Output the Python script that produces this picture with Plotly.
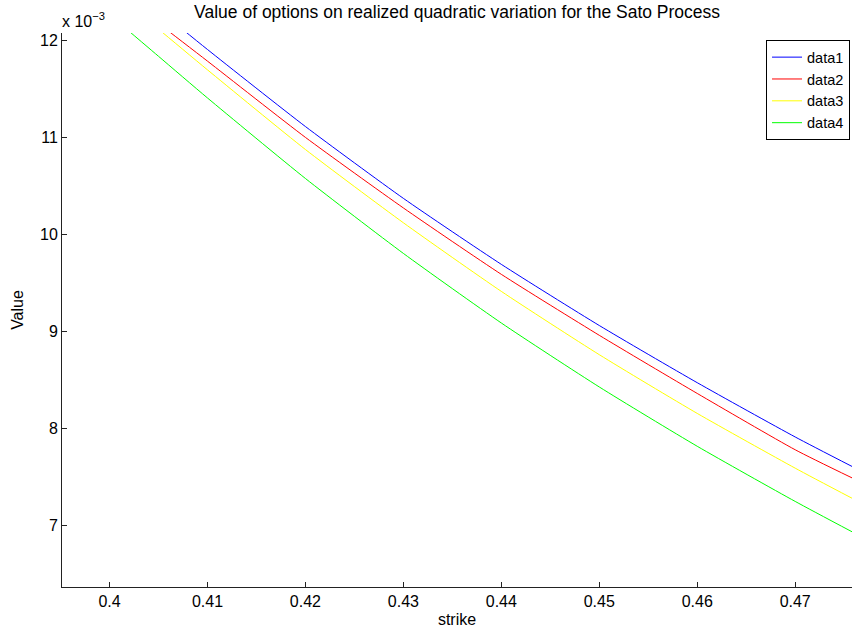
import plotly.graph_objects as go

# Strike grid and option values (in units of 1e-3)
strike = [0.400, 0.405, 0.410, 0.420, 0.430, 0.440, 0.450, 0.460, 0.470, 0.4758]
data1 = [12.74, 12.32, 11.91, 11.115, 10.374, 9.693, 9.062, 8.472, 7.912, 7.608]
data2 = [12.58, 12.18, 11.79, 11.003, 10.275, 9.590, 8.961, 8.361, 7.780, 7.490]
data3 = [12.54, 12.12, 11.70, 10.878, 10.122, 9.414, 8.761, 8.155, 7.590, 7.280]
data4 = [12.27, 11.84, 11.41, 10.579, 9.806, 9.088, 8.428, 7.816, 7.247, 6.934]

series = [("data1", data1, "#0000ff"),
          ("data2", data2, "#ff0000"),
          ("data3", data3, "#ffff00"),
          ("data4", data4, "#00ff00")]

x_ticks = [0.40, 0.41, 0.42, 0.43, 0.44, 0.45, 0.46, 0.47]
x_ticktext = ["0.4", "0.41", "0.42", "0.43", "0.44", "0.45", "0.46", "0.47"]
y_ticks = [7, 8, 9, 10, 11, 12]

FONT = "Liberation Sans, Arial, Helvetica, sans-serif"

fig = go.Figure()
for name, vals, color in series:
    fig.add_trace(go.Scatter(
        x=strike, y=[v * 1e-3 for v in vals], name=name, mode="lines",
        line=dict(color=color, width=1, shape="spline", smoothing=0.6),
    ))

fig.update_layout(
    width=852, height=632,
    margin=dict(l=62, r=0, t=33, b=45),
    paper_bgcolor="white", plot_bgcolor="white",
    font=dict(family=FONT, size=15, color="black"),
    title=dict(text="Value of options on realized quadratic variation for the Sato Process",
               x=0.5365, xanchor="center", y=0.982, yanchor="middle",
               font=dict(size=17.5, family=FONT)),
    xaxis=dict(range=[0.39515, 0.4758], tickvals=x_ticks, ticktext=x_ticktext,
               ticks="inside", ticklen=5, tickcolor="#222", showgrid=False,
               zeroline=False, showline=True, linecolor="#222", linewidth=1,
               tickfont=dict(size=16),
               title=dict(text="strike", font=dict(size=16), standoff=4)),
    yaxis=dict(range=[6.364e-3, 12.08e-3], tickvals=[v * 1e-3 for v in y_ticks],
               ticktext=[str(v) for v in y_ticks],
               ticks="inside", ticklen=5, tickcolor="#222", showgrid=False,
               zeroline=False, showline=True, linecolor="#222", linewidth=1,
               tickfont=dict(size=16),
               title=dict(text="Value", font=dict(size=16), standoff=12)),
    legend=dict(x=0.9975, xanchor="right", y=0.987, yanchor="top",
                bgcolor="white", bordercolor="black", borderwidth=1,
                font=dict(size=14.5), tracegroupgap=0, itemwidth=30),
    showlegend=True,
)

fig.add_annotation(text="x 10<sup>−3</sup>", xref="paper", yref="paper",
                   x=0.0, y=1.0, xanchor="left", yanchor="bottom",
                   xshift=-2, yshift=1, showarrow=False,
                   font=dict(size=16, family=FONT))

fig.write_html("out.html")
